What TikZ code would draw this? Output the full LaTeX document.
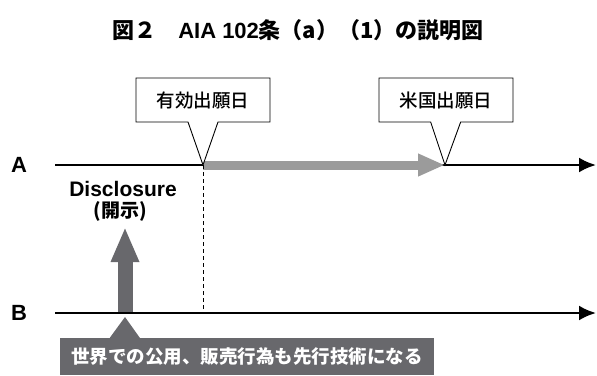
\documentclass[tikz,border=0pt]{standalone}
\usepackage{fontspec}
\setmainfont{Liberation Sans}
\newfontfamily\jp{Noto Sans CJK JP}
\newfontfamily\jpm{Noto Sans CJK JP Medium}
\usetikzlibrary{shapes,arrows.meta,positioning,calc}
\definecolor{lightbar}{HTML}{9B9B9B}
\definecolor{darkbar}{HTML}{68686C}
\tikzstyle{tag} = [rectangle callout, draw, line width=0.9pt, fill=white, minimum width=134pt, minimum height=44pt, inner sep=0pt, callout pointer width=30pt, execute at begin node=\jpm\fontsize{18.5pt}{20pt}\selectfont]
\tikzstyle{axis} = [draw, line width=2.4pt, -{Latex[length=17pt,width=15pt]}]
\tikzstyle{row} = [inner sep=0pt, execute at begin node=\bfseries\fontsize{22pt}{24pt}\selectfont]
\tikzstyle{note} = [rectangle, fill=darkbar, text=white, minimum width=374pt, minimum height=37pt, inner sep=0pt, execute at begin node=\jp\bfseries\fontsize{18.5pt}{20pt}\selectfont]

\begin{document}
\begin{tikzpicture}[x=1pt, y=-1pt]
		\useasboundingbox (0,0) rectangle (597,375);
		% Title
		\node (title) at (298,30) {\bfseries\fontsize{22pt}{26pt}\selectfont{\jp 図２　}AIA 102{\jp 条（a）（1）の説明図}};
		
		% Row labels and axes
		\node[row] (labA) at (19,165) {A};
		\node[row] (labB) at (19,313) {B};
		\coordinate (A0) at (55,165);
		\coordinate (A1) at (596,165);
		\coordinate (B0) at (55,313);
		\coordinate (B1) at (596,313);
		\coordinate (effA) at (203,165);
		\coordinate (effB) at (203,313);
		\coordinate (usA) at (445,165);
		\coordinate (srcB) at (125,313);
		\coordinate (srcTip) at (125,227);
		\coordinate (ptB) at (125,317);
		
		% Paths
		\draw[darkbar, line width=15pt, -{Triangle[length=35pt,width=26pt]}] (srcB) -- (srcTip);
		\path [axis] (A0) -- (A1);
		\path [axis] (B0) -- (B1);
		\draw[lightbar, line width=9pt, -{Triangle[length=27pt,width=21pt]}] (effA) -- (usA);
		\draw[line width=1pt, dash pattern=on 4pt off 3pt] (effA) -- (effB);
		
		% Callouts
		\node[tag, callout absolute pointer={(effA)}] (eff) at (203,100) {有効出願日};
		\node[tag, callout absolute pointer={(usA)}] (us) at (446,100) {米国出願日};
		
		% Disclosure on B
		\node[inner sep=0pt, execute at begin node=\bfseries\fontsize{21pt}{22pt}\selectfont] (disc) at (123,189) {Disclosure};
		\node[inner sep=0pt, execute at begin node=\jp\bfseries\fontsize{19pt}{20pt}\selectfont] (discjp) at (120,211) {(開示)};
		
		% Note box
		\node[note] (world) at (247,356.5) {世界での公用、販売行為も先行技術になる};
		\fill[darkbar] (ptB) -- ($(world.north west)+(50,0)$) -- ($(world.north west)+(80,0)$) -- cycle;
\end{tikzpicture}
\end{document}
